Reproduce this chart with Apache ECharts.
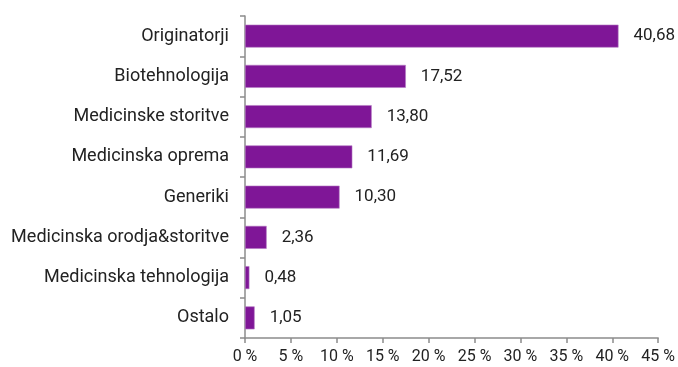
<!DOCTYPE html>
<html>
<head>
<meta charset="utf-8">
<script src="https://cdn.jsdelivr.net/npm/echarts@6/dist/echarts.min.js"></script>
<style>
  html, body { margin: 0; padding: 0; background: #ffffff; }
  #chart { width: 678px; height: 367px; }
</style>
</head>
<body>
<div id="chart"></div>
<script>
// Sector shares, listed top to bottom
const categories = [
  'Originatorji',
  'Biotehnologija',
  'Medicinske storitve',
  'Medicinska oprema',
  'Generiki',
  'Medicinska orodja&storitve',
  'Medicinska tehnologija',
  'Ostalo'
];
const shares = [40.68, 17.52, 13.80, 11.69, 10.30, 2.36, 0.48, 1.05];
const xTicks = [0, 5, 10, 15, 20, 25, 30, 35, 40, 45];

const FONT = 'Roboto, "Noto Sans", sans-serif';
const fmt = v => v.toFixed(2).replace('.', ',');

const chart = echarts.init(document.getElementById('chart'));
chart.setOption({
  animation: false,
  grid: { left: 245, right: 18, top: 16, bottom: 29, containLabel: false },
  xAxis: {
    type: 'value',
    min: xTicks[0],
    max: xTicks[xTicks.length - 1],
    interval: 5,
    splitLine: { show: false },
    axisLine: { show: true, lineStyle: { color: '#8c8c8c', width: 1.5 } },
    axisTick: { show: true, length: 5, lineStyle: { color: '#8c8c8c', width: 1.5 } },
    axisLabel: {
      margin: 11,
      color: '#222',
      fontFamily: FONT,
      fontSize: 16,
      formatter: v => v + ' %'
    }
  },
  yAxis: {
    type: 'category',
    data: categories,
    inverse: true,
    axisLine: { show: true, lineStyle: { color: '#8c8c8c', width: 1.5 } },
    axisTick: { show: true, length: 5, lineStyle: { color: '#8c8c8c', width: 1.5 } },
    axisLabel: {
      margin: 16,
      color: '#222',
      fontFamily: FONT,
      fontSize: 18
    }
  },
  series: [{
    type: 'bar',
    data: shares,
    barWidth: '57%',
    itemStyle: {
      color: '#7f1697',
      borderColor: '#b57cc4',
      borderWidth: 0.6
    },
    label: {
      show: true,
      position: 'right',
      distance: 15,
      color: '#222',
      fontFamily: FONT,
      fontSize: 17,
      formatter: p => fmt(p.value)
    }
  }]
});
</script>
</body>
</html>
